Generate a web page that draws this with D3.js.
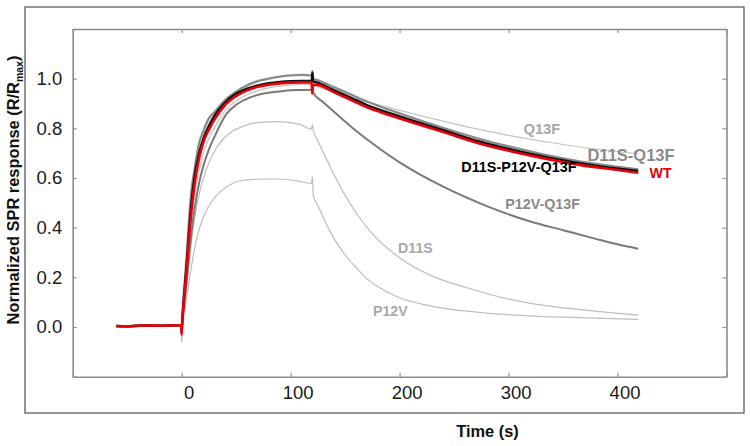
<!DOCTYPE html>
<html>
<head>
<meta charset="utf-8">
<script src="https://cdn.jsdelivr.net/npm/d3@7"></script>
<style>
  html, body { margin: 0; padding: 0; background: #fff; }
  svg { display: block; font-family: "Liberation Sans", Arial, Helvetica, sans-serif; }
</style>
</head>
<body>
<svg id="chart" width="750" height="446"></svg>
<script>
// ---------------- data ----------------
const xTicks = [-100, 0, 100, 200, 300, 400, 500];
const xTickLabels = ["", "0", "100", "200", "300", "400", ""];
const yTicks = [-0.2, 0.0, 0.2, 0.4, 0.6, 0.8, 1.0, 1.2];
const yTickLabels = ["", "0.0", "0.2", "0.4", "0.6", "0.8", "1.0", ""];

const baseline = [[-60,0.004],[-50,0.003],[-40,0.005],[-30,0.006],[-20,0.005],[-10,0.006],[-0.5,0.008]];

const p12vData = [[0,-0.06],[0.6,0.0],[3,0.07],[6,0.16],[10,0.27],[14,0.36],[18,0.42],[24,0.48],[32,0.53],[40,0.56],[53,0.588],[70,0.595],[85,0.596],[100,0.592],[110,0.585],[119,0.578],[120,0.605],[120.8,0.53],[125,0.49],[130,0.44],[140,0.355],[150,0.29],[160,0.24],[170,0.195],[185,0.15],[200,0.118],[225,0.088],[246,0.072],[280,0.056],[323,0.044],[370,0.037],[419,0.031]];

const d11sData = [[0,-0.06],[0.6,0.0],[3,0.1],[6,0.22],[10,0.38],[14,0.49],[18,0.57],[24,0.65],[32,0.722],[40,0.765],[47,0.789],[55,0.806],[62,0.817],[75,0.825],[87,0.827],[98,0.824],[108,0.817],[119,0.797],[120,0.815],[120.8,0.79],[125,0.75],[133,0.675],[142,0.595],[150,0.53],[160,0.46],[175,0.375],[200,0.279],[230,0.205],[262,0.158],[290,0.123],[323,0.093],[355,0.075],[384,0.062],[419,0.048]];

const q13fData = [[0,-0.01],[0.6,0.03],[4,0.18],[9,0.42],[12,0.53],[16,0.63],[20,0.7],[25,0.76],[30,0.8],[40,0.87],[50,0.91],[60,0.935],[70,0.952],[80,0.963],[90,0.97],[100,0.974],[110,0.976],[119.3,0.976],[120,0.99],[120.6,0.975],[130,0.96],[150,0.93],[182,0.893],[220,0.85],[260,0.808],[300,0.772],[340,0.742],[380,0.716],[419,0.697]];

const p12vq13fData = [[0,-0.01],[0.6,0.03],[4,0.16],[9,0.38],[12,0.48],[16,0.58],[20,0.65],[25,0.715],[30,0.765],[41,0.857],[50,0.895],[62,0.923],[75,0.94],[93,0.95],[105,0.954],[119.3,0.955],[120,0.965],[120.6,0.944],[130,0.905],[140,0.866],[160,0.79],[182,0.717],[200,0.663],[240,0.565],[280,0.487],[320,0.425],[350,0.39],[380,0.355],[400,0.333],[419,0.315]];

const d11sq13fData = [[0,-0.01],[0.6,0.04],[4,0.25],[9,0.55],[12,0.64],[16,0.74],[20,0.79],[25,0.84],[30,0.865],[40,0.915],[50,0.948],[62,0.977],[70,0.99],[80,1.0],[90,1.008],[100,1.013],[110,1.015],[119.3,1.013],[120,1.03],[120.6,1.0],[124,0.995],[140,0.965],[155,0.937],[170,0.908],[182,0.888],[200,0.86],[220,0.83],[240,0.802],[274,0.757],[305,0.722],[335,0.692],[365,0.667],[395,0.648],[419,0.635]];

const d11sp12vq13fData = [[0,-0.01],[0.6,0.03],[4,0.22],[9,0.5],[12,0.61],[16,0.7],[20,0.76],[25,0.81],[30,0.85],[40,0.905],[50,0.94],[60,0.96],[70,0.973],[80,0.982],[90,0.987],[100,0.99],[110,0.991],[119.3,0.991],[120,1.024],[120.6,0.99],[124,0.985],[140,0.953],[155,0.924],[170,0.894],[182,0.874],[200,0.848],[220,0.82],[240,0.793],[274,0.746],[305,0.712],[335,0.684],[365,0.66],[395,0.641],[419,0.628]];

const wtData = [[0,-0.03],[0.6,0.02],[2,0.1],[4,0.2],[6,0.32],[9,0.47],[12,0.58],[16,0.68],[20,0.745],[25,0.795],[30,0.835],[40,0.895],[50,0.93],[60,0.953],[70,0.967],[80,0.976],[90,0.981],[100,0.984],[110,0.985],[119.3,0.985],[119.8,0.94],[120.4,0.975],[124,0.975],[140,0.945],[155,0.915],[170,0.885],[182,0.866],[200,0.84],[220,0.812],[240,0.785],[274,0.738],[305,0.705],[335,0.677],[365,0.653],[395,0.635],[419,0.621]];

const seriesNames = ["P12V", "D11S", "Q13F", "P12V-Q13F", "D11S-Q13F", "D11S-P12V-Q13F", "WT"];
const seriesValues = [p12vData, d11sData, q13fData, p12vq13fData, d11sq13fData, d11sp12vq13fData, wtData];

// label anchors in data units (time, response)
const labelNames = ["Q13F", "D11S-Q13F", "D11S-P12V-Q13F", "WT", "P12V-Q13F", "D11S", "P12V"];
const labelT = [313.6, 372.4, 256.6, 429.4, 297, 198.6, 175.6];
const labelV = [0.777, 0.669, 0.624, 0.600, 0.475, 0.298, 0.044];

// ---------------- styles ----------------
const styles = {
  "P12V":           {stroke: "#bdbdbd", width: 1.2, label: "#a9a9a9", size: 14.2},
  "D11S":           {stroke: "#bdbdbd", width: 1.2, label: "#a9a9a9", size: 14.2},
  "Q13F":           {stroke: "#c4c4c4", width: 1.2, label: "#a9a9a9", size: 14.8},
  "P12V-Q13F":      {stroke: "#7a7a7a", width: 2.0, label: "#8a8a8a", size: 14.3},
  "D11S-Q13F":      {stroke: "#8a8a8a", width: 2.3, label: "#8a8a8a", size: 16.5},
  "D11S-P12V-Q13F": {stroke: "#111111", width: 2.4, label: "#000000", size: 14.4},
  "WT":             {stroke: "#e8000b", width: 2.6, label: "#e8000b", size: 14.2}
};

const svg = d3.select("#chart");

// outer frame
svg.append("rect").attr("x", 25).attr("y", 7).attr("width", 719).attr("height", 406)
  .attr("fill", "none").attr("stroke", "#5c5c5c").attr("stroke-width", 1.3);

const x = d3.scaleLinear().domain([-100, 500]).range([72.7, 726.5]);
const y = d3.scaleLinear().domain([-0.2, 1.2]).range([376.7, 29]);

const axisColor = "#8c8c8c";
function styleAxis(g) {
  g.selectAll("path.domain").attr("stroke", axisColor).attr("stroke-width", 1.6);
  g.selectAll(".tick line").attr("stroke", axisColor).attr("stroke-width", 1.1);
  g.selectAll(".tick text").attr("fill", "#1a1a1a").attr("font-size", "18.5px")
    .attr("font-family", "'Liberation Sans', Arial, sans-serif");
}

const gBottom = svg.append("g").attr("transform", `translate(0,${y(-0.2)})`)
  .call(d3.axisBottom(x).tickValues(xTicks).tickSizeInner(-4).tickSizeOuter(0).tickPadding(9.5)
    .tickFormat((d, i) => xTickLabels[i]));
styleAxis(gBottom);
gBottom.selectAll(".tick text").attr("dx", 7);

const gTop = svg.append("g").attr("transform", `translate(0,${y(1.2)})`)
  .call(d3.axisTop(x).tickValues(xTicks).tickSizeInner(-4).tickSizeOuter(0).tickFormat(""));
styleAxis(gTop);

const gLeft = svg.append("g").attr("transform", `translate(${x(-100)},0)`)
  .call(d3.axisLeft(y).tickValues(yTicks).tickSizeInner(-4).tickSizeOuter(0).tickPadding(10.5)
    .tickFormat((d, i) => yTickLabels[i]));
styleAxis(gLeft);

const gRight = svg.append("g").attr("transform", `translate(${x(500)},0)`)
  .call(d3.axisRight(y).tickValues(yTicks).tickSizeInner(-4).tickSizeOuter(0).tickFormat(""));
styleAxis(gRight);

// curves
const line = d3.line().x(d => x(d[0])).y(d => y(d[1])).curve(d3.curveMonotoneX);
seriesNames.forEach((name, i) => {
  const st = styles[name];
  svg.append("path")
    .datum(baseline.concat(seriesValues[i]))
    .attr("fill", "none")
    .attr("stroke", st.stroke)
    .attr("stroke-width", st.width)
    .attr("stroke-linejoin", "round")
    .attr("d", line);
});

// curve labels
labelNames.forEach((name, i) => {
  const st = styles[name];
  svg.append("text")
    .attr("x", x(labelT[i])).attr("y", y(labelV[i]))
    .attr("fill", st.label).attr("font-weight", "bold")
    .attr("font-size", st.size + "px")
    .text(name);
});

// axis titles
svg.append("text").attr("x", 487.5).attr("y", 437).attr("text-anchor", "middle")
  .attr("font-weight", "bold").attr("font-size", "16.4px").attr("fill", "#111")
  .text("Time (s)");

const yt = svg.append("text")
  .attr("transform", "translate(19,190) rotate(-90)")
  .attr("text-anchor", "middle").attr("font-weight", "bold").attr("font-size", "16.4px").attr("fill", "#111");
yt.append("tspan").text("Normalized SPR response (R/R");
yt.append("tspan").attr("font-size", "10.5px").attr("dy", 4).text("max");
yt.append("tspan").attr("dy", -4).text(")");
</script>
</body>
</html>
